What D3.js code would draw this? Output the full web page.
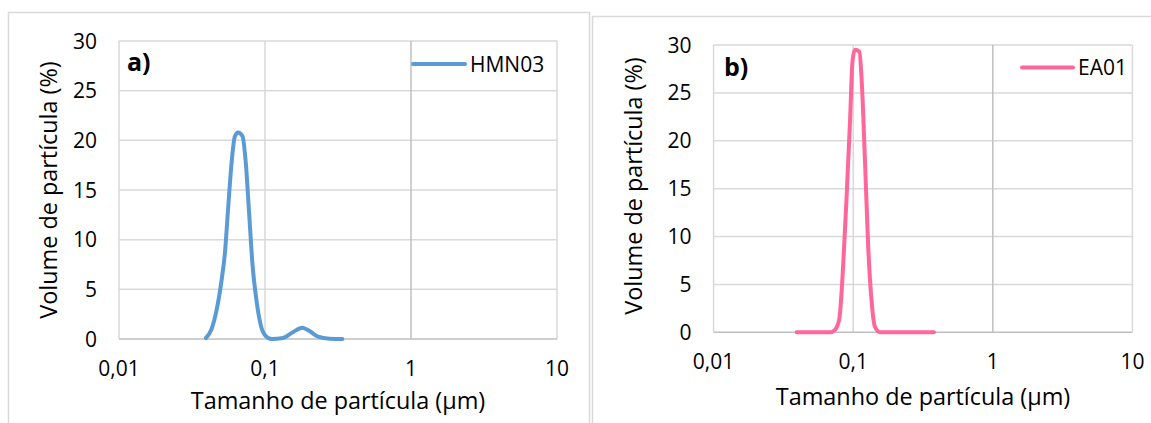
<!DOCTYPE html>
<html>
<head>
<meta charset="utf-8">
<script src="https://cdn.jsdelivr.net/npm/d3@7"></script>
<style>
  html, body { margin: 0; padding: 0; background: #fff; }
  svg { display: block; font-family: "Open Sans", "Noto Sans", sans-serif; }
</style>
</head>
<body>
<svg id="chart" width="1151" height="423"></svg>
<script>
// ---------- data ----------
const xTickValues = [0.01, 0.1, 1, 10];
const xTickLabels = ["0,01", "0,1", "1", "10"];
const yTickValues = [0, 5, 10, 15, 20, 25, 30];

const hmnSize = [0.0394, 0.043, 0.0466, 0.0504, 0.0531, 0.056, 0.059, 0.0622, 0.0654, 0.0702, 0.0739, 0.0779, 0.082, 0.0874, 0.093, 0.0997, 0.1107, 0.133, 0.155, 0.180, 0.202, 0.231, 0.277, 0.339];
const hmnVolume = [0.1, 0.98, 2.9, 5.9, 8.6, 13.3, 17.7, 20.4, 20.8, 20.4, 17.7, 12.6, 7.6, 3.9, 1.55, 0.4, 0.0, 0.1, 0.68, 1.13, 0.8, 0.23, 0.03, 0.0];

const eaSize = [0.0394, 0.0682, 0.0741, 0.0795, 0.0849, 0.0897, 0.0948, 0.099, 0.103, 0.1107, 0.115, 0.1216, 0.128, 0.1357, 0.143, 0.1555, 0.216, 0.379];
const eaVolume = [0, 0, 0.26, 1.4, 7.2, 14.2, 21.9, 28.4, 29.5, 29.3, 26.3, 17.7, 9.0, 3.1, 0.6, 0, 0, 0];

const xTitle = "Tamanho de partícula (µm)";
const yTitle = "Volume de partícula (%)";

// ---------- drawing ----------
const svg = d3.select("#chart");

// outer frames
svg.append("rect").attr("x", 8.5).attr("y", 12.5).attr("width", 581).attr("height", 430)
  .attr("fill", "none").attr("stroke", "#d9d9d9").attr("stroke-width", 1.5);
svg.append("rect").attr("x", 592.5).attr("y", 16.5).attr("width", 600).attr("height", 430)
  .attr("fill", "none").attr("stroke", "#d9d9d9").attr("stroke-width", 1.5);

function panel(cfg) {
  const x = d3.scaleLog().domain([0.01, 10]).range([cfg.left, cfg.right]);
  const y = d3.scaleLinear().domain([0, 30]).range([cfg.bottom, cfg.top]);
  const g = svg.append("g");

  // horizontal gridlines
  g.selectAll(".hg").data(yTickValues.filter(v => v > 0)).join("line")
    .attr("x1", cfg.left).attr("x2", cfg.right)
    .attr("y1", d => y(d)).attr("y2", d => y(d))
    .attr("stroke", "#d9d9d9").attr("stroke-width", 1.5);
  // vertical gridlines
  g.selectAll(".vg").data(xTickValues).join("line")
    .attr("x1", d => x(d)).attr("x2", d => x(d))
    .attr("y1", cfg.top).attr("y2", cfg.bottom)
    .attr("stroke", d => d === 1 ? "#bfbfbf" : "#d9d9d9").attr("stroke-width", 1.5);
  // x axis line
  g.append("line").attr("x1", cfg.left).attr("x2", cfg.right)
    .attr("y1", y(0)).attr("y2", y(0))
    .attr("stroke", "#bfbfbf").attr("stroke-width", 1.5);

  // y tick labels
  g.selectAll(".yl").data(yTickValues).join("text")
    .attr("x", cfg.left - 22).attr("y", d => y(d)).attr("dy", "0.36em")
    .attr("text-anchor", "end").attr("font-size", 21).attr("fill", "#000")
    .text(d => d);
  // x tick labels
  g.selectAll(".xl").data(xTickValues).join("text")
    .attr("x", d => x(d)).attr("y", y(0) + 37)
    .attr("text-anchor", "middle").attr("font-size", 21).attr("fill", "#000")
    .text((d, i) => xTickLabels[i]);

  // axis titles
  g.append("text").attr("x", (cfg.left + cfg.right) / 2).attr("y", cfg.xTitleY)
    .attr("text-anchor", "middle").attr("font-size", 23.4).attr("fill", "#000")
    .text(xTitle);
  g.append("text")
    .attr("transform", `translate(${cfg.yTitleX},${cfg.yTitleCY}) rotate(-90)`)
    .attr("text-anchor", "middle").attr("font-size", 23.4).attr("fill", "#000")
    .text(yTitle);

  // series line
  const pts = cfg.xs.map((v, i) => [v, cfg.ys[i]]);
  const line = d3.line().x(d => x(d[0])).y(d => y(d[1])).curve(d3.curveMonotoneX);
  g.append("path").datum(pts).attr("d", line)
    .attr("fill", "none").attr("stroke", cfg.color).attr("stroke-width", 4)
    .attr("stroke-linecap", "round").attr("stroke-linejoin", "round");

  // panel label
  g.append("text").attr("x", cfg.labelX).attr("y", cfg.labelY)
    .attr("font-size", 25).attr("font-weight", "bold").attr("fill", "#000")
    .text(cfg.label);

  // legend
  g.append("line").attr("x1", cfg.legX1).attr("x2", cfg.legX2)
    .attr("y1", cfg.legY).attr("y2", cfg.legY)
    .attr("stroke", cfg.color).attr("stroke-width", 4).attr("stroke-linecap", "round");
  g.append("text").attr("x", cfg.legX2 + 5).attr("y", cfg.legY + 7.5)
    .attr("font-size", 21).attr("fill", "#000").text(cfg.name);
}

panel({
  left: 119, right: 557, top: 41, bottom: 339,
  xTitleY: 409, yTitleX: 57, yTitleCY: 190,
  xs: hmnSize, ys: hmnVolume, color: "#5b9bd5",
  label: "a)", labelX: 127, labelY: 71,
  legX1: 413, legX2: 465, legY: 64, name: "HMN03"
});
panel({
  left: 713.6, right: 1132.4, top: 45, bottom: 332.3,
  xTitleY: 405, yTitleX: 642, yTitleCY: 186,
  xs: eaSize, ys: eaVolume, color: "#ff6699",
  label: "b)", labelX: 724, labelY: 76,
  legX1: 1022, legX2: 1073, legY: 67.5, name: "EA01"
});
</script>
</body>
</html>
